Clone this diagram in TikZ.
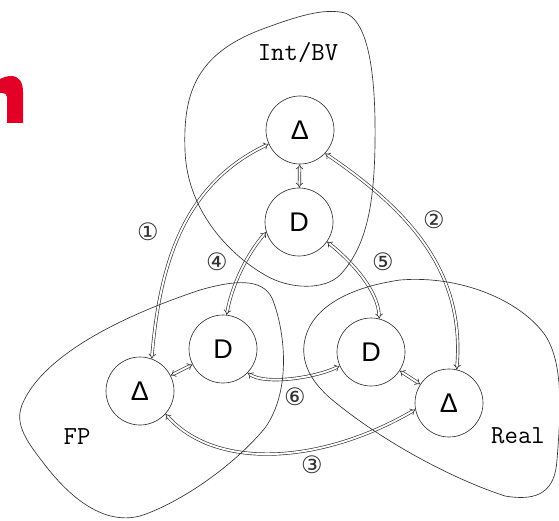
\documentclass[tikz,border=0pt]{standalone}
\usepackage{fontspec}
\setsansfont{Liberation Sans}
\newfontfamily\circfont{DejaVu Sans}
\usetikzlibrary{arrows.meta}
\definecolor{lncol}{RGB}{50,50,50}
\definecolor{brand}{RGB}{226,0,38}
\begin{document}
\begin{tikzpicture}[x=1pt,y=-1pt,
  blob/.style={draw=lncol, line width=0.65pt},
  var/.style={circle, draw=lncol, line width=0.65pt, minimum size=68pt, inner sep=0pt, font=\sffamily\fontsize{27}{27}\selectfont},
  dar/.style={draw=lncol, line width=0.65pt, double=white, double distance=1.9pt, {Implies[scale=1.15]}-{Implies[scale=1.15]}},
  num/.style={font=\circfont\fontsize{24}{24}\selectfont, text=lncol, inner sep=0pt},
  dom/.style={font=\ttfamily\fontsize{26}{26}\selectfont, inner sep=0pt}]
\useasboundingbox (0,0) rectangle (559,521);
% red fragment
\fill[brand] (0,79) .. controls (4,77) and (8,76) .. (11,76) .. controls (19,76) and (23,82) .. (23,92) -- (23,123) -- (7,123) -- (7,97) .. controls (7,94) and (5,93) .. (2,93) -- (0,93) -- cycle;
% variables
\node[var] (tDelta) at (300,130) {Δ};
\node[var] (tD) at (299,222) {D};
\node[var] (lD) at (223,349) {D};
\node[var] (lDelta) at (140,391) {Δ};
\node[var] (rD) at (371,352) {D};
\node[var] (rDelta) at (449,403) {Δ};
% arrows
\draw[dar] (tDelta) -- (tD);
\draw[dar] (lDelta) -- (lD);
\draw[dar] (rD) -- (rDelta);
\draw[dar] (tDelta.204) .. controls (185,184) and (160,261) .. (lDelta.70);
\draw[dar] (tDelta.-43) .. controls (410,211) and (465,272) .. (rDelta.77);
\draw[dar] (lDelta.-42) .. controls (215,470) and (320,465) .. (rDelta.191);
\draw[dar] (tD.197) .. controls (247,254) and (232,285) .. (lD.84);
\draw[dar] (tD.-35) .. controls (352,262) and (378,290) .. (rD.76);
\draw[dar] (lD.-44) .. controls (265,385) and (315,378) .. (rD.204);
% domains
\draw[blob] (185,150) .. controls (183,95) and (195,55) .. (260,30)
  .. controls (300,15) and (325,8) .. (345,13)
  .. controls (365,20) and (374,60) .. (375,120)
  .. controls (376,200) and (368,245) .. (340,275)
  .. controls (325,290) and (290,290) .. (265,275)
  .. controls (235,258) and (187,215) .. (185,150) -- cycle;
\draw[blob] (22,405) .. controls (40,360) and (110,320) .. (200,290)
  .. controls (235,280) and (262,278) .. (272,298)
  .. controls (285,330) and (292,390) .. (265,428)
  .. controls (230,470) and (175,505) .. (140,516)
  .. controls (105,525) and (72,500) .. (45,465)
  .. controls (28,443) and (14,425) .. (22,405) -- cycle;
\draw[blob] (304,345) .. controls (308,310) and (345,288) .. (400,280)
  .. controls (460,275) and (520,300) .. (545,335)
  .. controls (565,365) and (560,420) .. (557,460)
  .. controls (555,490) and (540,502) .. (505,496)
  .. controls (450,478) and (380,440) .. (330,398)
  .. controls (312,382) and (302,365) .. (304,345) -- cycle;
% labels
\node[dom] (lInt) at (298,53) {Int/BV};
\node[dom] (lFP) at (77,437) {FP};
\node[dom] (lReal) at (518,436) {Real};
\node[num] (n1) at (148,232) {①};
\node[num] (n2) at (434,220) {②};
\node[num] (n3) at (312,465) {③};
\node[num] (n4) at (217,262) {④};
\node[num] (n5) at (383,262) {⑤};
\node[num] (n6) at (295,397) {⑥};
\end{tikzpicture}
\end{document}
